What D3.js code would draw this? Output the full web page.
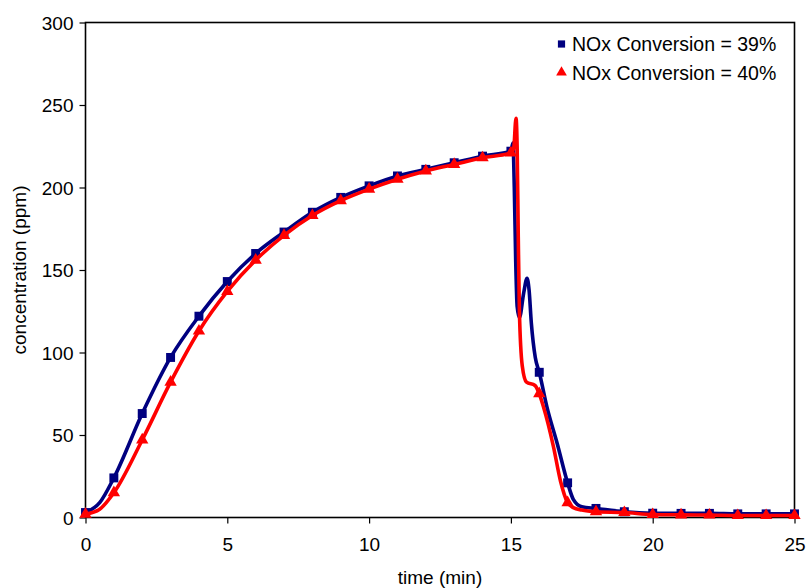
<!DOCTYPE html>
<html>
<head>
<meta charset="utf-8">
<script src="https://cdn.jsdelivr.net/npm/d3@7"></script>
<style>
  html, body { margin: 0; padding: 0; background: #fff; }
  svg { display: block; }
  text { font-family: "Liberation Sans", Arial, sans-serif; fill: #000; }
</style>
</head>
<body>
<svg id="chart" width="806" height="588"></svg>
<script>
// ---- data ----
const xTicks = [0, 5, 10, 15, 20, 25];
const yTicks = [0, 50, 100, 150, 200, 250, 300];
const seriesNames = ["NOx Conversion = 39%", "NOx Conversion = 40%"];

const blueT = [0, 0.5, 1, 2, 3, 4, 5, 6, 7, 8, 9, 10, 11, 12, 13, 14, 15,
  15.07, 15.12, 15.17, 15.22, 15.3, 15.45, 15.57, 15.64, 15.72, 15.86, 16,
  16.27, 16.63, 17, 17.2, 17.5, 18, 19, 20, 21, 22, 23, 24, 25];
const blueV = [3, 9, 24, 63, 97, 122, 143, 160, 173, 185, 194, 201, 207, 211, 215, 219, 222,
  227, 200, 155, 128, 121, 136, 145, 138, 118, 97, 88,
  67, 45, 21, 11, 6.5, 5.5, 3.5, 2.6, 2.5, 2.5, 2.2, 2.2, 2.2];

const redT = [0, 0.5, 1, 2, 3, 4, 5, 6, 7, 8, 9, 10, 11, 12, 13, 14, 15,
  15.1, 15.18, 15.22, 15.26, 15.3, 15.4, 15.55, 15.85, 16,
  16.15, 16.5, 16.75, 17, 17.2, 17.5, 18, 19, 20, 21, 22, 23, 24, 25];
const redV = [2, 5, 15, 47, 82, 113, 137, 156, 171, 183, 192, 199, 205, 210, 214, 218, 221,
  224, 242, 225, 170, 125, 92, 82, 80, 75,
  67, 43, 22, 9, 6, 4.5, 3.5, 3, 1.8, 1.6, 1.5, 1.2, 1.2, 1.2];

// ---- layout ----
const svg = d3.select("#chart");
const L = 85.5, R = 794.5, T = 22.5, B = 517.5;
const x = d3.scaleLinear().domain([0, 25]).range([L, R]);
const y = d3.scaleLinear().domain([0, 300]).range([B, T]);

// axes
const gx = svg.append("g").attr("transform", `translate(0,${B})`)
  .call(d3.axisBottom(x).tickValues(xTicks).tickSize(6).tickSizeOuter(0).tickPadding(14));
const gy = svg.append("g").attr("transform", `translate(${L},0)`)
  .call(d3.axisLeft(y).tickValues(yTicks).tickSize(6).tickSizeOuter(0).tickPadding(6));
[gx, gy].forEach(g => {
  g.select(".domain").remove();
  g.selectAll("line").attr("stroke", "#000").attr("stroke-width", 1.2);
  g.selectAll("text").style("font-family", '"Liberation Sans", Arial, sans-serif')
    .style("font-size", "19px").attr("fill", "#000");
});
gy.selectAll("text").attr("dy", "0.36em");

// frame
svg.append("rect").attr("x", L).attr("y", T).attr("width", R - L).attr("height", B - T)
  .attr("fill", "none").attr("stroke", "#000").attr("stroke-width", 1.6);

// axis titles
svg.append("text").attr("x", (L + R) / 2).attr("y", 584).attr("text-anchor", "middle")
  .style("font-size", "19px").text("time (min)");
svg.append("text").attr("transform", `translate(26,${(T + B) / 2}) rotate(-90)`)
  .attr("text-anchor", "middle").style("font-size", "19px").text("concentration (ppm)");

// series
const line = d3.line().curve(d3.curveMonotoneX).x(d => x(d.t)).y(d => y(d.v));
const blue = blueT.map((t, i) => ({ t, v: blueV[i] }));
const red = redT.map((t, i) => ({ t, v: redV[i] }));
const isMarker = d => Number.isInteger(d.t);

function drawSeries(data, color, shape) {
  svg.append("path").datum(data).attr("d", line)
    .attr("fill", "none").attr("stroke", color).attr("stroke-width", 3.6)
    .attr("stroke-linejoin", "round").attr("stroke-linecap", "round");
  const sym = d3.symbol().type(shape).size(shape === d3.symbolSquare ? 80 : 66);
  svg.append("g").selectAll("path").data(data.filter(isMarker)).join("path")
    .attr("transform", d => `translate(${x(d.t)},${y(d.v)})`)
    .attr("d", sym).attr("fill", color);
}
drawSeries(blue, "#000080", d3.symbolSquare);
drawSeries(red, "#FF0000", d3.symbolTriangle);

// legend
const legend = svg.append("g");
const colors = ["#000080", "#FF0000"];
const shapes = [d3.symbolSquare, d3.symbolTriangle];
seriesNames.forEach((name, i) => {
  const cy = 44 + i * 28.5;
  legend.append("path").attr("transform", `translate(561.5,${cy})`)
    .attr("d", d3.symbol().type(shapes[i]).size(i === 0 ? 52 : 50)).attr("fill", colors[i]);
  legend.append("text").attr("x", 572).attr("y", cy).attr("dy", "0.36em")
    .style("font-size", "19.5px").text(name);
});
</script>
</body>
</html>
